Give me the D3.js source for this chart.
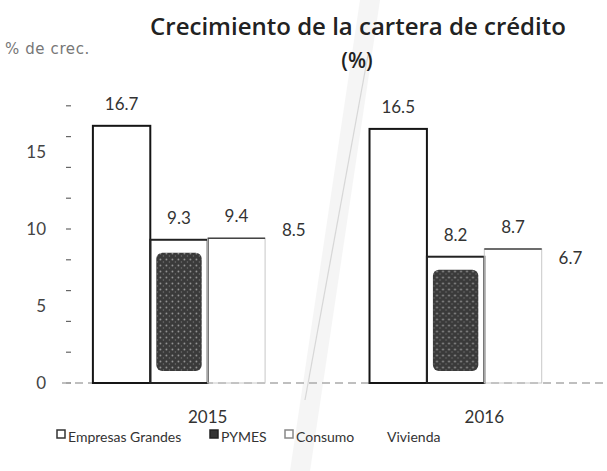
<!DOCTYPE html>
<html>
<head>
<meta charset="utf-8">
<script src="https://cdn.jsdelivr.net/npm/d3@7"></script>
<style>
  body { margin: 0; background: #fff; }
  svg { display: block; }
</style>
</head>
<body>
<svg id="chart" width="607" height="471"></svg>
<script>
(function() {

  // data
  var years = ['2015', '2016'];
  var series = ['Empresas Grandes', 'PYMES', 'Consumo', 'Vivienda'];
  var empresas = [16.7, 16.5];
  var pymes = [9.3, 8.2];
  var consumo = [9.4, 8.7];
  var vivienda = [8.5, 6.7];
  var yTicks = [0, 5, 10, 15];

  var values = [empresas, pymes, consumo, vivienda];
  var rows = [];
  years.forEach(function(yr, i) {
    series.forEach(function(s, j) {
      rows.push({ year: yr, key: s, value: values[j][i] });
    });
  });

  var strokes = { 'Empresas Grandes': '#151515', 'PYMES': '#222', 'Consumo': '#c8c8c8', 'Vivienda': 'none' };
  var numFont = 'Lato, "Open Sans", sans-serif';
  var titleFont = '"Open Sans", "DejaVu Sans", sans-serif';

  var svg = d3.select('#chart');

  // scan fold (faint diagonal band)
  svg.append('path')
    .attr('d', 'M360,0 L380,0 L310,471 L290,471 Z')
    .attr('fill', '#d8d8d8')
    .attr('opacity', 0.25);
  svg.append('line')
    .attr('x1', 368).attr('y1', 55).attr('x2', 305).attr('y2', 400)
    .attr('stroke', '#c4c4c4').attr('stroke-width', 1.2).attr('opacity', 0.6);

  var y = d3.scaleLinear().domain([0, 15]).range([383, 152]);
  var x0 = d3.scaleBand().domain(years).range([68, 624]).paddingInner(0.17).paddingOuter(0.09);
  var x1 = d3.scaleBand().domain(series).range([0, x0.bandwidth()]);

  // texture for the dark PYMES patch
  var defs = svg.append('defs');
  var pat = defs.append('pattern')
    .attr('id', 'grain').attr('width', 6).attr('height', 6)
    .attr('patternUnits', 'userSpaceOnUse');
  pat.append('rect').attr('width', 6).attr('height', 6).attr('fill', '#3a3a3a');
  pat.append('circle').attr('cx', 1.5).attr('cy', 1.5).attr('r', 0.9).attr('fill', '#9a9a9a');
  pat.append('circle').attr('cx', 4.5).attr('cy', 4).attr('r', 0.7).attr('fill', '#777');

  // y axis: small dashes every 2, labels every 5
  var minor = d3.range(0, 19, 2);
  svg.append('g').selectAll('line')
    .data(minor)
    .enter().append('line')
    .attr('x1', 66).attr('x2', 71)
    .attr('y1', function(d) { return y(d); })
    .attr('y2', function(d) { return y(d); })
    .attr('stroke', '#666').attr('stroke-width', 1.2);

  var yAxis = svg.append('g')
    .attr('transform', 'translate(52,0)')
    .call(d3.axisLeft(y).tickValues(yTicks).tickSize(0).tickPadding(6));
  yAxis.select('.domain').remove();
  yAxis.selectAll('text')
    .attr('font-family', numFont).attr('font-size', 17).attr('fill', '#444');

  // baseline
  svg.append('line')
    .attr('x1', 62).attr('x2', 607)
    .attr('y1', y(0)).attr('y2', y(0))
    .attr('stroke', '#aaa').attr('stroke-width', 1.5)
    .attr('stroke-dasharray', '8,5');

  var groups = svg.append('g').selectAll('g')
    .data(years)
    .enter().append('g')
    .attr('transform', function(d) { return 'translate(' + x0(d) + ',0)'; });

  var bars = groups.selectAll('g.bar')
    .data(function(d) { return rows.filter(function(r) { return r.year === d; }); })
    .enter().append('g').attr('class', 'bar');

  bars.append('rect')
    .attr('x', function(d) { return x1(d.key); })
    .attr('y', function(d) { return y(d.value); })
    .attr('width', x1.bandwidth())
    .attr('height', function(d) { return y(0) - y(d.value); })
    .attr('fill', 'none')
    .attr('stroke', function(d) { return strokes[d.key]; })
    .attr('stroke-width', function(d) { return d.key === 'Consumo' ? 1 : 2; });

  // darker top edge on Consumo
  bars.filter(function(d) { return d.key === 'Consumo'; })
    .append('line')
    .attr('x1', function(d) { return x1(d.key); })
    .attr('x2', function(d) { return x1(d.key) + x1.bandwidth(); })
    .attr('y1', function(d) { return y(d.value); })
    .attr('y2', function(d) { return y(d.value); })
    .attr('stroke', '#444').attr('stroke-width', 1.5);

  // stippled inner patch of PYMES
  bars.filter(function(d) { return d.key === 'PYMES'; })
    .append('rect')
    .attr('x', function(d) { return x1(d.key) + 6; })
    .attr('y', function(d) { return y(d.value) + 13; })
    .attr('width', x1.bandwidth() - 12)
    .attr('height', function(d) { return y(0) - y(d.value) - 25; })
    .attr('rx', 6)
    .attr('fill', 'url(#grain)');

  bars.append('text')
    .attr('x', function(d) { return x1(d.key) + x1.bandwidth() / 2; })
    .attr('y', function(d) { return y(d.value) - 16; })
    .attr('text-anchor', 'middle')
    .attr('font-family', numFont).attr('font-size', 17).attr('fill', '#333')
    .text(function(d) { return d.value.toFixed(1); });

  // year labels
  svg.append('g').selectAll('text')
    .data(years)
    .enter().append('text')
    .attr('x', function(d) { return x0(d) + x0.bandwidth() / 2; })
    .attr('y', 423)
    .attr('text-anchor', 'middle')
    .attr('font-family', numFont).attr('font-size', 17).attr('fill', '#333')
    .text(function(d) { return d; });

  // titles
  svg.append('text')
    .attr('x', 358).attr('y', 35)
    .attr('text-anchor', 'middle')
    .attr('font-family', titleFont).attr('font-size', 24)
    .attr('font-weight', 600).attr('fill', '#222')
    .text('Crecimiento de la cartera de crédito');
  svg.append('text')
    .attr('x', 357).attr('y', 68)
    .attr('text-anchor', 'middle')
    .attr('font-family', titleFont).attr('font-size', 21)
    .attr('font-weight', 600).attr('fill', '#222')
    .text('(%)');
  svg.append('text')
    .attr('x', 5).attr('y', 54)
    .attr('font-family', '"DejaVu Sans", sans-serif').attr('font-size', 15)
    .attr('letter-spacing', 0.6)
    .attr('fill', '#777')
    .text('% de crec.');

  // legend
  var legendX = [57, 210, 285, 387];
  var swatch = { 'Empresas Grandes': ['#fff', '#333'], 'PYMES': ['#333', '#222'], 'Consumo': ['#fff', '#888'], 'Vivienda': null };
  var legend = svg.append('g').selectAll('g')
    .data(series)
    .enter().append('g')
    .attr('transform', function(d, i) { return 'translate(' + legendX[i] + ',437)'; });
  legend.filter(function(d) { return swatch[d]; })
    .append('rect')
    .attr('x', 0).attr('y', -7).attr('width', 8).attr('height', 8)
    .attr('fill', function(d) { return swatch[d][0]; })
    .attr('stroke', function(d) { return swatch[d][1]; })
    .attr('stroke-width', 1.5);
  legend.append('text')
    .attr('x', function(d) { return swatch[d] ? 11 : 0; })
    .attr('y', 5)
    .attr('font-family', numFont).attr('font-size', 14).attr('fill', '#333')
    .text(function(d) { return d; });

})();
</script>
</body>
</html>
